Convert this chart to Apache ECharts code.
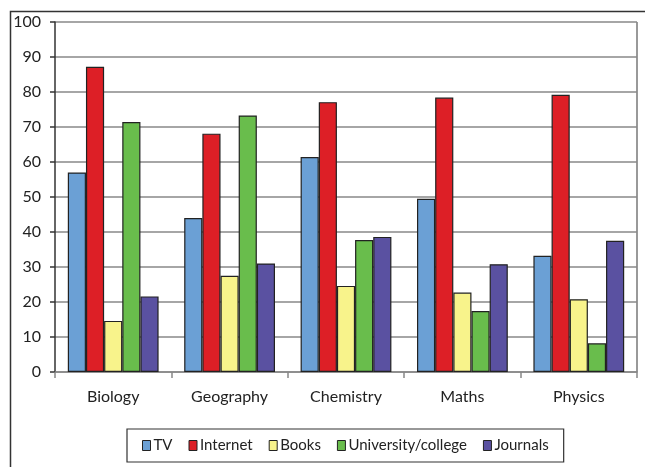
<!DOCTYPE html>
<html>
<head>
<meta charset="utf-8">
<script src="https://cdn.jsdelivr.net/npm/echarts@6/dist/echarts.min.js"></script>
<style>
html,body{margin:0;padding:0;background:#fff;}
#c{width:645px;height:467px;}
</style>
</head>
<body>
<div id="c"></div>
<script>
const categories = ['Biology', 'Geography', 'Chemistry', 'Maths', 'Physics'];
const seriesNames = ['TV', 'Internet', 'Books', 'University/college', 'Journals'];
const tv = [57, 44, 61.4, 49.5, 33.2];
const internet = [87.2, 68.1, 77.1, 78.4, 79.2];
const books = [14.6, 27.5, 24.6, 22.7, 20.8];
const university = [71.4, 73.3, 37.7, 17.4, 8.2];
const journals = [21.6, 31, 38.6, 30.8, 37.5];
const colors = ['#6BA0D5', '#DD1F26', '#F8F38B', '#69BD4C', '#5A51A1'];

const values = [tv, internet, books, university, journals];
const font = 'Lato';

const chart = echarts.init(document.getElementById('c'), null, {renderer: 'canvas'});
chart.setOption({
  animation: false,
  color: colors,
  textStyle: {fontFamily: font},
  graphic: [{
    type: 'rect', left: 8, top: 9, silent: true,
    shape: {x: 0, y: 0, width: 700, height: 500},
    style: {fill: 'none', stroke: '#333', lineWidth: 1.5}
  }, {
    type: 'line', silent: true,
    shape: {x1: 637, y1: 22, x2: 637, y2: 372},
    style: {stroke: '#999', lineWidth: 2}
  }],
  grid: {left: 55, right: 8, top: 22, bottom: 95, containLabel: false},
  legend: {
    data: seriesNames,
    left: 127, top: 429,
    width: 431,
    padding: [9, 15, 9, 15],
    borderColor: '#333', borderWidth: 1.2,
    itemWidth: 8, itemHeight: 10, itemGap: 16,
    icon: 'rect',
    selectedMode: false,
    itemStyle: {borderColor: '#222', borderWidth: 1},
    textStyle: {fontFamily: font, fontSize: 15, color: '#222', padding: [0, 0, 0, -2]}
  },
  xAxis: {
    type: 'category',
    data: categories,
    axisLine: {show: true, lineStyle: {color: '#888', width: 1.5}},
    axisTick: {show: true, length: 6, lineStyle: {color: '#888', width: 1.5}},
    axisLabel: {fontFamily: font, fontSize: 16, color: '#222', margin: 17}
  },
  yAxis: {
    type: 'value',
    min: 0, max: 100, interval: 10,
    axisLine: {show: true, lineStyle: {color: '#333', width: 1.5}},
    axisTick: {show: true, length: 5, lineStyle: {color: '#333', width: 1.5}},
    axisLabel: {fontFamily: font, fontSize: 16, color: '#222', margin: 14},
    splitLine: {show: true, lineStyle: {color: '#888', width: 1.5}}
  },
  series: seriesNames.map((n, i) => ({
    name: n,
    type: 'bar',
    data: values[i],
    barGap: '0%',
    barCategoryGap: '22%',
    itemStyle: {color: colors[i], borderColor: '#222', borderWidth: 1.2}
  }))
});
</script>
</body>
</html>
